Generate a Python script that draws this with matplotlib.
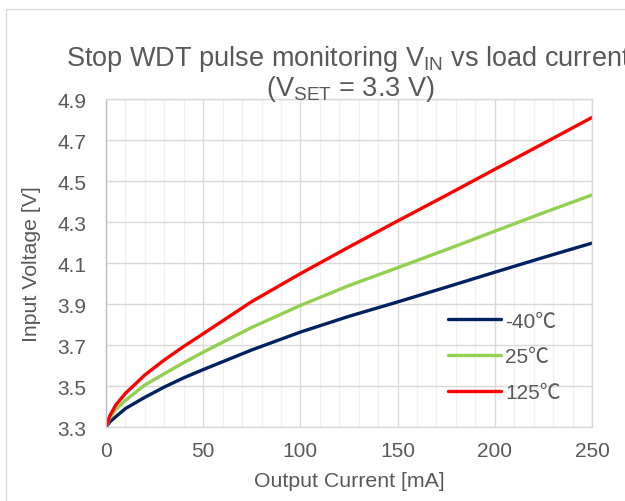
import numpy as np
import matplotlib
matplotlib.use('Agg')
import matplotlib.pyplot as plt
from matplotlib.patches import Rectangle
from matplotlib.ticker import MultipleLocator

plt.rcParams['font.family'] = ['Liberation Sans', 'Noto Sans CJK JP', 'DejaVu Sans']
plt.rcParams['mathtext.fontset'] = 'custom'
plt.rcParams['mathtext.rm'] = 'Liberation Sans'

# Output current [mA]
current = [0, 2, 5, 10, 20, 30, 40, 50, 75, 100, 125, 150, 175, 200, 225, 250]

# Input voltage [V] per temperature
v_m40 = [3.30, 3.325, 3.35, 3.39, 3.445, 3.495, 3.54, 3.58, 3.676, 3.763, 3.84, 3.91, 3.982, 4.055, 4.127, 4.197]
v_25 = [3.30, 3.345, 3.385, 3.43, 3.505, 3.56, 3.614, 3.665, 3.786, 3.893, 3.99, 4.077, 4.165, 4.255, 4.345, 4.432]
v_125 = [3.30, 3.355, 3.407, 3.464, 3.554, 3.627, 3.693, 3.755, 3.912, 4.048, 4.178, 4.305, 4.43, 4.557, 4.683, 4.81]

labels = ['-40\u2103', '25\u2103', '125\u2103']
colors = ['#002060', '#92d050', '#ff0000']

txt = '#595959'

fig = plt.figure(figsize=(6.25, 5.02), dpi=100)
ax = fig.add_axes([106/625, 1 - 428/502, 486/625, 328/502])

for v, lab, c in zip([v_m40, v_25, v_125], labels, colors):
    ax.plot(current, v, color=c, lw=2.4, label=lab, solid_capstyle='round')

ax.set_xlim(0, 250)
ax.set_ylim(3.3, 4.9)
ax.xaxis.set_major_locator(MultipleLocator(50))
ax.xaxis.set_minor_locator(MultipleLocator(10))
yt = np.arange(3.3, 4.91, 0.2)
ax.set_yticks(yt)
ax.set_yticklabels([f'{t:.1f}' for t in yt])

ax.grid(which='major', color='#d9d9d9', lw=1.0)
ax.grid(which='minor', axis='x', color='#f0f0f0', lw=1.0)
ax.set_axisbelow(True)
for s in ax.spines.values():
    s.set_color('#d9d9d9')
    s.set_linewidth(1.0)
ax.spines['left'].set_color('#bfbfbf')
ax.tick_params(which='both', length=0, colors=txt, labelsize=15)
ax.tick_params(axis='x', pad=10)
ax.tick_params(axis='y', pad=14)

ax.set_xlabel('Output Current [mA]', fontsize=15.3, color=txt, labelpad=8)
ax.set_ylabel('Input Voltage [V]', fontsize=15.3, color=txt, labelpad=12)

fig.text(0.557, 1 - 66/502, r'Stop WDT pulse monitoring V$_\mathregular{IN}$ vs load current',
         ha='center', va='baseline', fontsize=19.5, color=txt)
fig.text(0.56, 1 - 96/502, r'(V$_\mathregular{SET}$ = 3.3 V)',
         ha='center', va='baseline', fontsize=19.5, color=txt)

leg = ax.legend(loc='upper left', bbox_to_anchor=(0.704, 0.352), frameon=False,
                fontsize=15, handlelength=2.55, labelspacing=0.8, handletextpad=0.2,
                borderpad=0, borderaxespad=0, labelcolor=txt)

fig.patches.append(Rectangle((6/625, -0.1), 1.2, 1 - 10/502 + 0.1, transform=fig.transFigure,
                             fill=False, edgecolor='#d9d9d9', lw=1.0))

fig.savefig('out.png', dpi=100)
